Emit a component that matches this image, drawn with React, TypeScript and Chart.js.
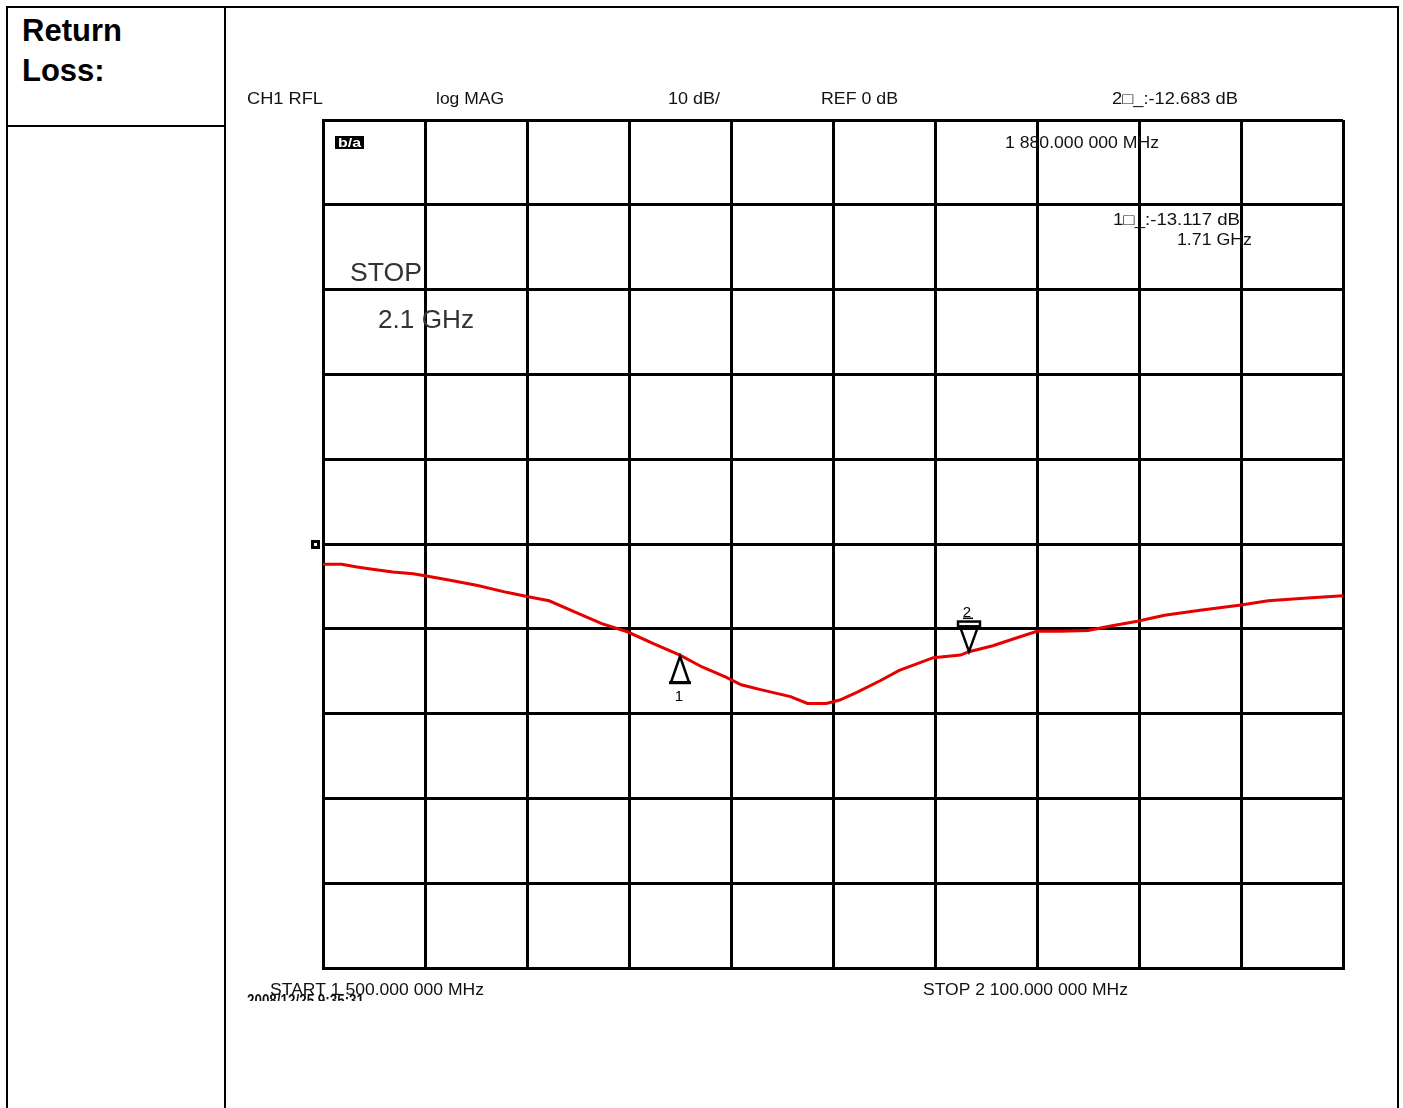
import React, { useEffect, useRef } from "react";
import { Chart, registerables } from "chart.js";

Chart.register(...registerables);

// ---- data ----
const freqMHz: number[] = [
  1500, 1511, 1520, 1528, 1541, 1553, 1560, 1574, 1591, 1608, 1620, 1633, 1649, 1664, 1679, 1695,
  1710, 1723, 1737, 1746, 1758, 1775, 1785, 1796, 1804, 1814, 1828, 1839, 1859, 1875, 1880, 1894,
  1906, 1920, 1934, 1950, 1965, 1979, 1995, 2016, 2040, 2056, 2077, 2100,
];
const returnLossDb: number[] = [
  -2.4, -2.4, -2.7, -2.95, -3.3, -3.5, -3.75, -4.25, -4.9, -5.7, -6.2, -6.7, -8.1, -9.4, -10.35, -11.8,
  -13.1, -14.5, -15.7, -16.6, -17.2, -18.0, -18.8, -18.8, -18.4, -17.5, -16.1, -14.9, -13.4, -13.1, -12.7, -12.0,
  -11.2, -10.3, -10.3, -10.2, -9.6, -9.1, -8.4, -7.8, -7.2, -6.7, -6.4, -6.1,
];
const markerIds: string[] = ["1", "2"];
const markerFreqs: number[] = [1710, 1880];
const markerValues: number[] = [-13.117, -12.683];
const headerLabels: string[] = ["CH1 RFL", "log MAG", "10 dB/", "REF 0 dB", "2□_:-12.683 dB"];
const markerReadouts: string[] = ["1 880.000 000 MHz", "1□_:-13.117 dB", "1.71 GHz"];
const stopNote: string[] = ["STOP", "2.1 GHz"];
const footerLabels: string[] = ["START 1 500.000 000 MHz", "STOP 2 100.000 000 MHz", "2008/12/25 9:35:31"];
const freqStart = 1500;
const freqStop = 2100;
const freqStep = 60;
const dbMin = -50;
const dbMax = 50;
const dbStep = 10;

const CANVAS_LEFT = 227;
const CANVAS_TOP = 9;
const CANVAS_W = 1169;
const CANVAS_H = 1099;

function fitText(
  ctx: CanvasRenderingContext2D,
  s: string,
  pageX: number,
  pageY: number,
  width: number,
  font: string,
  color = "#111"
) {
  ctx.save();
  ctx.font = font;
  ctx.fillStyle = color;
  ctx.textBaseline = "alphabetic";
  ctx.textAlign = "left";
  const w = ctx.measureText(s).width;
  const sx = width / w;
  ctx.translate(pageX - CANVAS_LEFT, pageY - CANVAS_TOP);
  ctx.scale(sx, 1);
  ctx.fillText(s, 0, 0);
  ctx.restore();
}

const overlayPlugin = {
  id: "vnaOverlay",
  afterDraw(chart: any) {
    const ctx: CanvasRenderingContext2D = chart.ctx;
    const xs = chart.scales.x;
    const ys = chart.scales.y;
    const small = "16px 'Liberation Sans', Arial, sans-serif";
    const big = "26px 'Liberation Sans', Arial, sans-serif";

    // header
    fitText(ctx, headerLabels[0], 247, 104, 76, small);
    fitText(ctx, headerLabels[1], 436, 104, 68, small);
    fitText(ctx, headerLabels[2], 668, 104, 52, small);
    fitText(ctx, headerLabels[3], 821, 104, 77, small);
    fitText(ctx, headerLabels[4], 1112, 104, 126, small);

    // readouts
    fitText(ctx, markerReadouts[0], 1005, 148, 154, small);
    fitText(ctx, markerReadouts[1], 1113, 225, 127, small);
    fitText(ctx, markerReadouts[2], 1177, 245, 75, small);

    // stop note
    fitText(ctx, stopNote[0], 350, 281, 72, big, "#333");
    fitText(ctx, stopNote[1], 378, 328, 96, big, "#333");

    // footer
    fitText(ctx, footerLabels[0], 270, 995, 214, small);
    fitText(ctx, footerLabels[1], 923, 995, 205, small);
    ctx.save();
    ctx.beginPath();
    ctx.rect(0, 0, CANVAS_W, 1001 - CANVAS_TOP);
    ctx.clip();
    fitText(ctx, footerLabels[2], 247, 1006, 117, "bold 16px 'Liberation Sans', Arial, sans-serif");
    ctx.restore();

    // b/a icon
    ctx.save();
    ctx.fillStyle = "#000";
    ctx.fillRect(335 - CANVAS_LEFT, 136 - CANVAS_TOP, 29, 13);
    ctx.restore();
    fitText(ctx, "b/a", 338, 147, 23, "bold 12px 'Liberation Sans', Arial, sans-serif", "#fff");

    // reference position marker at 0 dB
    const ry = ys.getPixelForValue(0);
    const rx = xs.left - 12;
    ctx.save();
    ctx.fillStyle = "#000";
    ctx.fillRect(rx, ry - 4, 9, 9);
    ctx.fillStyle = "#fff";
    ctx.fillRect(rx + 3, ry - 1, 3, 3);
    ctx.restore();

    // markers
    markerFreqs.forEach((f, i) => {
      const px = xs.getPixelForValue(f);
      const py = ys.getPixelForValue(markerValues[i]);
      ctx.save();
      ctx.strokeStyle = "#000";
      ctx.fillStyle = "#000";
      ctx.lineWidth = 2.5;
      ctx.lineJoin = "miter";
      ctx.textAlign = "center";
      ctx.font = "15px 'Liberation Sans', Arial, sans-serif";
      if (i === 0) {
        ctx.beginPath();
        ctx.moveTo(px, py + 1);
        ctx.lineTo(px + 9, py + 27);
        ctx.lineTo(px - 9, py + 27);
        ctx.closePath();
        ctx.stroke();
        ctx.fillRect(px - 11, py + 26, 22, 3);
        ctx.fillText(markerIds[i], px - 1, py + 46);
      } else {
        ctx.beginPath();
        ctx.moveTo(px, py);
        ctx.lineTo(px + 9, py - 25);
        ctx.lineTo(px - 9, py - 25);
        ctx.closePath();
        ctx.stroke();
        ctx.strokeRect(px - 11, py - 30, 22, 5);
        ctx.fillText(markerIds[i], px - 2, py - 35);
        ctx.fillRect(px - 6, py - 34, 10, 1.5);
      }
      ctx.restore();
    });
  },
};

export default function App() {
  const canvasRef = useRef<HTMLCanvasElement | null>(null);

  useEffect(() => {
    if (!canvasRef.current) return;
    const chart = new Chart(canvasRef.current, {
      type: "line",
      data: {
        datasets: [
          {
            data: freqMHz.map((f, i) => ({ x: f, y: returnLossDb[i] })),
            borderColor: "rgb(230,0,0)",
            borderWidth: 3,
            pointRadius: 0,
            tension: 0,
            fill: false,
          },
        ],
      },
      options: {
        animation: false,
        responsive: false,
        maintainAspectRatio: false,
        layout: { padding: { left: 96, top: 111, right: 53, bottom: 140 } },
        plugins: { legend: { display: false }, tooltip: { enabled: false } },
        scales: {
          x: {
            type: "linear",
            min: freqStart,
            max: freqStop,
            ticks: { stepSize: freqStep, display: false },
            grid: { color: "#000", lineWidth: 3, drawTicks: false },
            border: { color: "#000", width: 3 },
          },
          y: {
            type: "linear",
            min: dbMin,
            max: dbMax,
            ticks: { stepSize: dbStep, display: false },
            grid: { color: "#000", lineWidth: 3, drawTicks: false },
            border: { color: "#000", width: 3 },
          },
        },
      },
      plugins: [overlayPlugin],
    });
    return () => chart.destroy();
  }, []);

  const line = "#000";
  return (
    <div style={{ position: "absolute", left: 0, top: 0, width: 1403, height: 1108, overflow: "hidden", background: "#fff" }}>
      {/* outer frame */}
      <div style={{ position: "absolute", left: 6, top: 6, width: 1393, height: 1200, boxSizing: "border-box", border: `2px solid ${line}` }} />
      {/* column divider */}
      <div style={{ position: "absolute", left: 224, top: 6, width: 2, height: 1200, background: line }} />
      {/* left cell row divider */}
      <div style={{ position: "absolute", left: 6, top: 125, width: 220, height: 2, background: line }} />
      <div
        style={{
          position: "absolute",
          left: 22,
          top: 11,
          fontFamily: "'Liberation Sans', Arial, sans-serif",
          fontWeight: "bold",
          fontSize: 31,
          lineHeight: "40px",
          color: "#000",
        }}
      >
        Return
        <br />
        Loss:
      </div>
      <canvas
        ref={canvasRef}
        width={CANVAS_W}
        height={CANVAS_H}
        style={{ position: "absolute", left: CANVAS_LEFT, top: CANVAS_TOP, width: CANVAS_W, height: CANVAS_H }}
      />
    </div>
  );
}
